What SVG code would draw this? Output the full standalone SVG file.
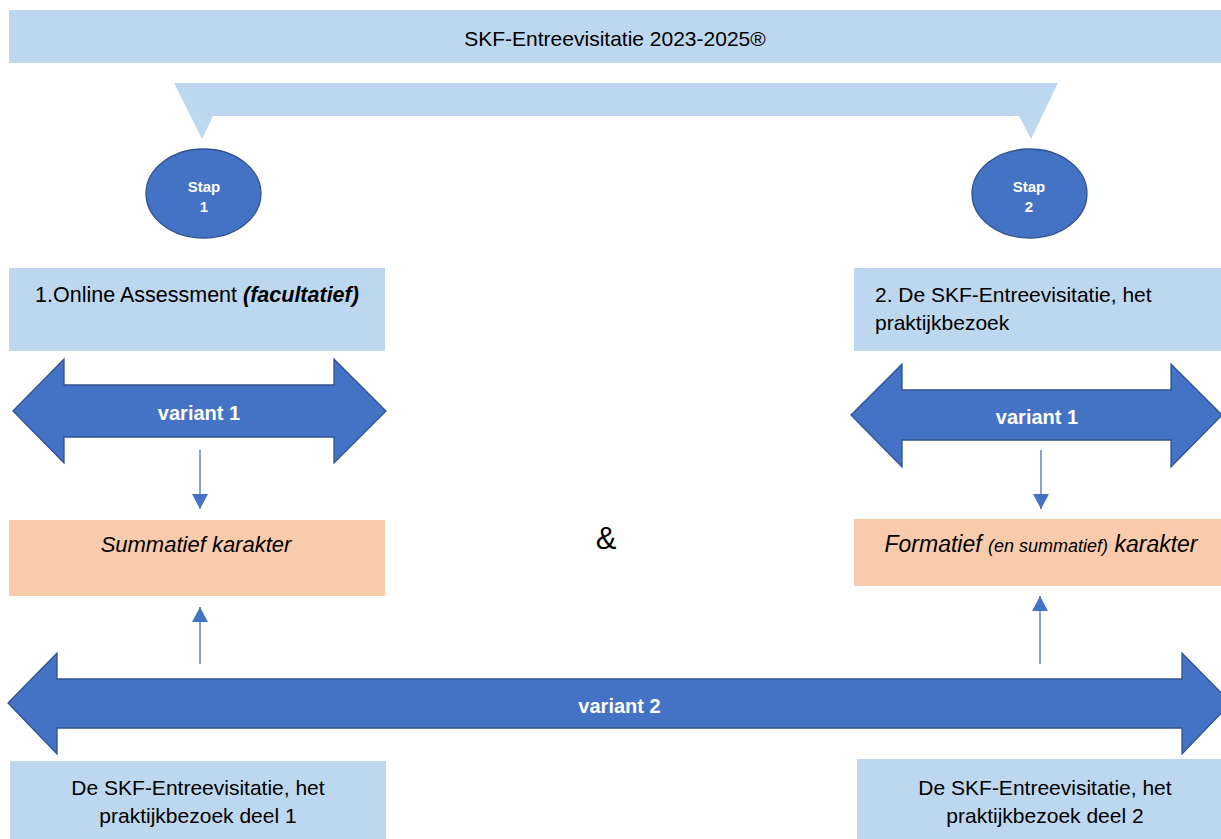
<svg xmlns="http://www.w3.org/2000/svg" width="1221" height="839" viewBox="0 0 1221 839">
  <defs>
    <style>
      .light { fill: #BDD7EE; }
      .orange { fill: #F8CBAD; }
      .big { fill: #4472C4; stroke: #2F528F; stroke-width: 1.3; }
      .txt { font-family: "Liberation Sans", Arial, sans-serif; font-size: 21px; fill: #000000; }
      .wtxt { font-family: "Liberation Sans", Arial, sans-serif; font-weight: bold; fill: #FFFFFF; font-size: 20px; }
      .stap { font-size: 15px; }
      .conn { stroke: #4472C4; stroke-width: 1.3; fill: none; }
    </style>
    <marker id="ah" markerUnits="userSpaceOnUse" markerWidth="16" markerHeight="16" viewBox="0 0 16 16" refX="15" refY="8" orient="auto">
      <path d="M0,0 L15,8 L0,16 Z" fill="#4472C4"/>
    </marker>
  </defs>
  <rect width="1221" height="839" fill="#FFFFFF"/>

  <g id="title">
    <rect class="light" x="9" y="10" width="1212" height="53"/>
    <text class="txt" x="615" y="46" text-anchor="middle">SKF-Entreevisitatie 2023-2025®</text>
  </g>

  <g id="bracket">
    <polygon class="light" points="174,83 1058,83 1031,139 1019,116 213,116 202,139"/>
  </g>

  <g id="stap1">
    <ellipse class="big" cx="203.5" cy="193.5" rx="57.5" ry="44.5"/>
    <text class="wtxt stap" x="204" y="192" text-anchor="middle">Stap</text>
    <text class="wtxt stap" x="204" y="212" text-anchor="middle">1</text>
  </g>

  <g id="stap2">
    <ellipse class="big" cx="1029.5" cy="193.5" rx="57.5" ry="44.5"/>
    <text class="wtxt stap" x="1029" y="192" text-anchor="middle">Stap</text>
    <text class="wtxt stap" x="1029" y="212" text-anchor="middle">2</text>
  </g>

  <g id="box-online">
    <rect class="light" x="9" y="268" width="376" height="83"/>
    <text class="txt" x="197" y="302" text-anchor="middle" style="font-size:21.5px">1.Online Assessment <tspan font-weight="bold" font-style="italic">(facultatief)</tspan></text>
  </g>

  <g id="box-entree">
    <rect class="light" x="854" y="268" width="367" height="83"/>
    <text class="txt" x="875" y="302">2. De SKF-Entreevisitatie, het</text>
    <text class="txt" x="875" y="330">praktijkbezoek</text>
  </g>

  <g id="variant1-left">
    <polygon class="big" points="13,411 64,359 64,385 334,385 334,359 386,411 334,463 334,437 64,437 64,463"/>
    <text class="wtxt" x="199" y="420" text-anchor="middle">variant 1</text>
  </g>

  <g id="variant1-right">
    <polygon class="big" points="851,415 902,364 902,390 1171,390 1171,364 1222,415 1171,467 1171,440 902,440 902,467"/>
    <text class="wtxt" x="1037" y="424" text-anchor="middle">variant 1</text>
  </g>

  <g id="box-summatief">
    <rect class="orange" x="9" y="520" width="376" height="76"/>
    <text class="txt" x="196" y="552" text-anchor="middle" style="font-size:22px;font-style:italic">Summatief karakter</text>
  </g>

  <g id="box-formatief">
    <rect class="orange" x="854" y="519" width="367" height="67"/>
    <text class="txt" x="1041" y="552" text-anchor="middle" style="font-size:23px;font-style:italic">Formatief <tspan style="font-size:18px">(en summatief)</tspan> karakter</text>
  </g>

  <g id="ampersand">
    <text class="txt" x="606" y="549" text-anchor="middle" style="font-size:31px">&amp;</text>
  </g>

  <g id="variant2">
    <polygon class="big" points="8,703 57,653 57,679 1182,679 1182,653 1231,703 1182,754 1182,728 57,728 57,754"/>
    <text class="wtxt" x="619.5" y="713" text-anchor="middle">variant 2</text>
  </g>

  <g id="box-deel1">
    <rect class="light" x="10" y="761" width="376" height="78"/>
    <text class="txt" x="198" y="795" text-anchor="middle">De SKF-Entreevisitatie, het</text>
    <text class="txt" x="198" y="823" text-anchor="middle">praktijkbezoek deel 1</text>
  </g>

  <g id="box-deel2">
    <rect class="light" x="857" y="759" width="364" height="80"/>
    <text class="txt" x="1045" y="795" text-anchor="middle">De SKF-Entreevisitatie, het</text>
    <text class="txt" x="1045" y="823" text-anchor="middle">praktijkbezoek deel 2</text>
  </g>

  <g id="connectors">
    <line class="conn" x1="200" y1="450" x2="200" y2="509" marker-end="url(#ah)"/>
    <line class="conn" x1="1041" y1="450" x2="1041" y2="509" marker-end="url(#ah)"/>
    <line class="conn" x1="200" y1="664" x2="200" y2="607" marker-end="url(#ah)"/>
    <line class="conn" x1="1040" y1="664" x2="1040" y2="596" marker-end="url(#ah)"/>
  </g>
</svg>
